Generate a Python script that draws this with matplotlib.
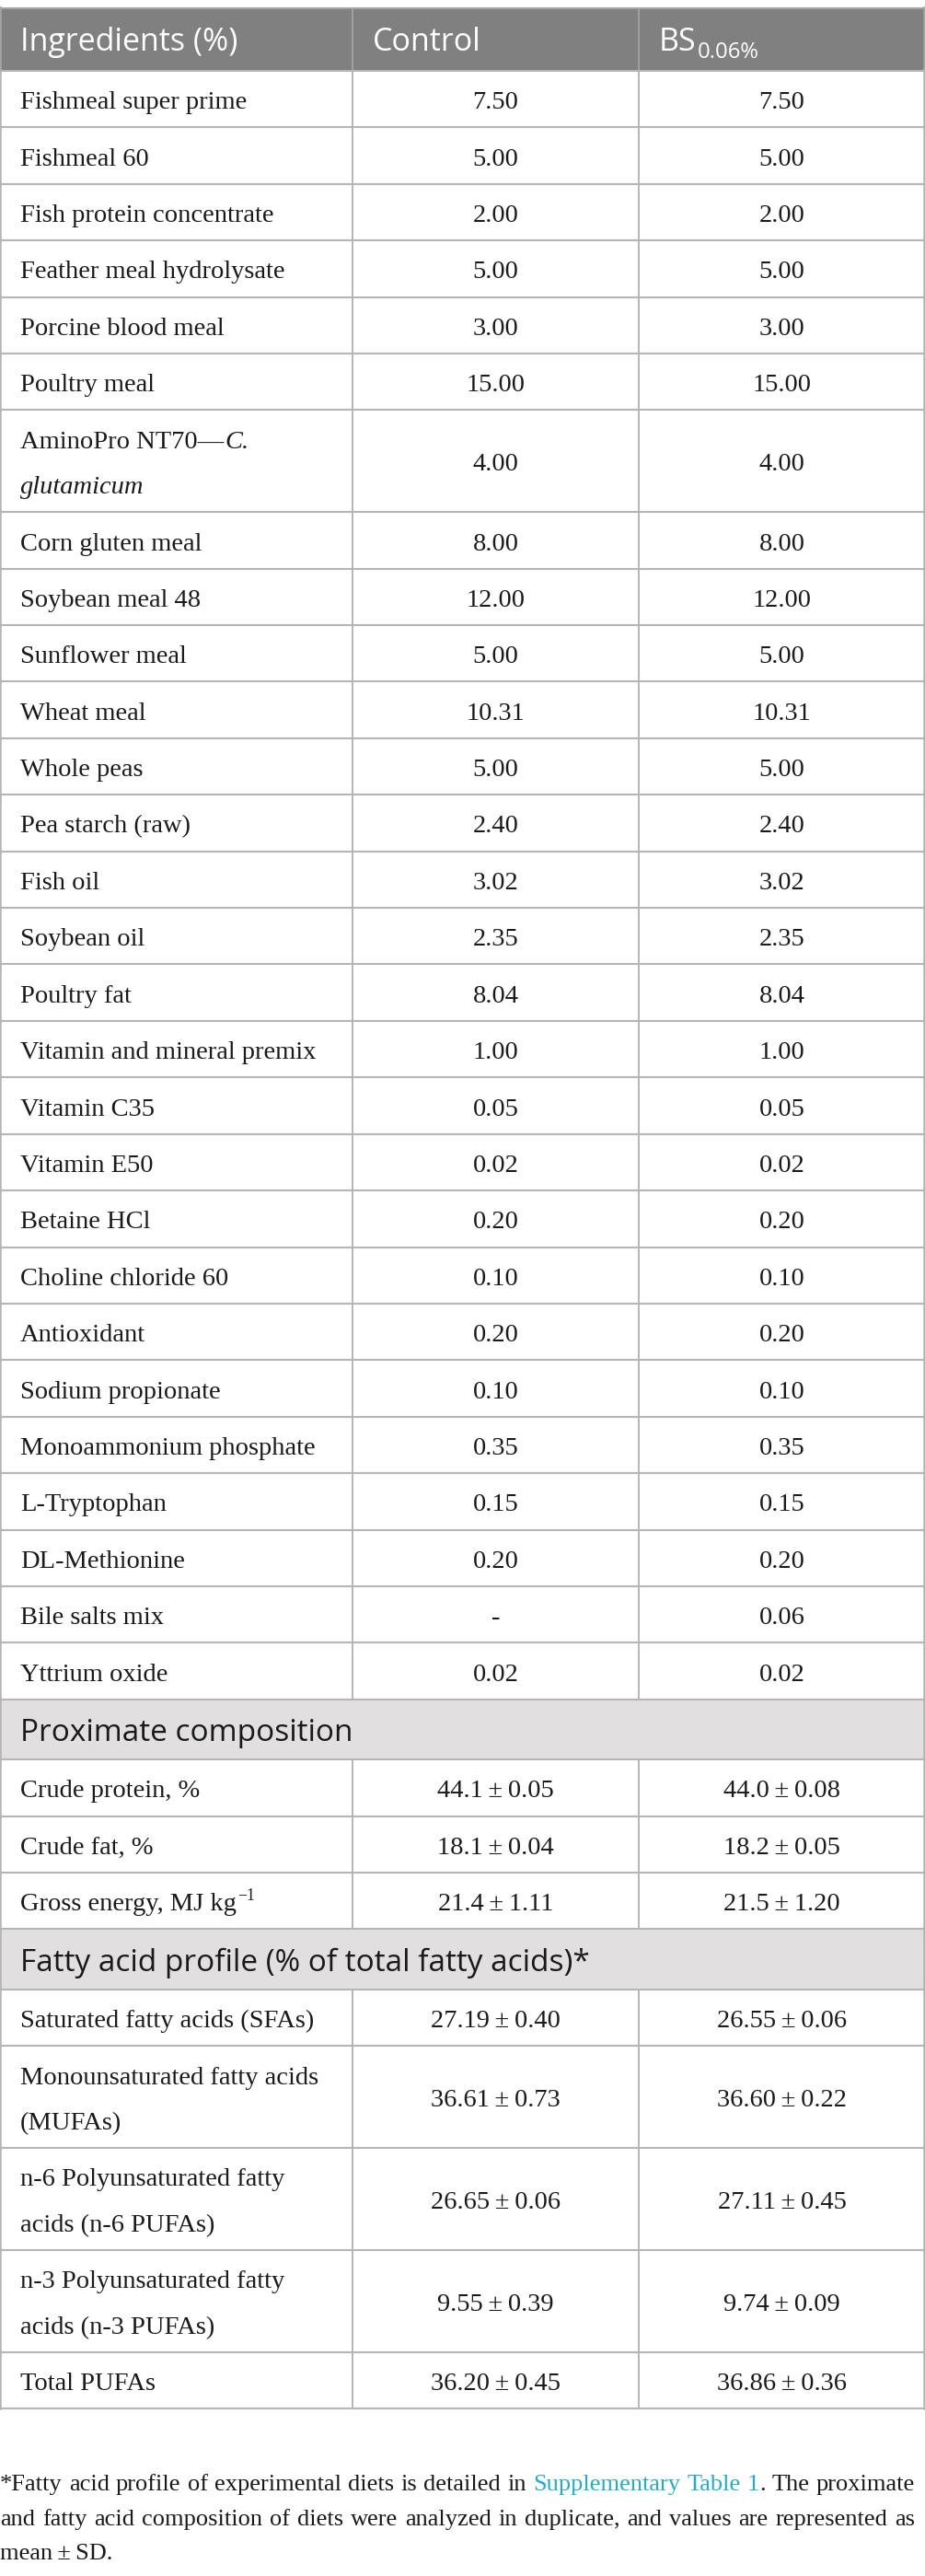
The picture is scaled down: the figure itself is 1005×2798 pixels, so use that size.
import re
import matplotlib
matplotlib.use("Agg")
import matplotlib.pyplot as plt
from matplotlib.patches import Rectangle

# ---------------- data ----------------
header_labels = ["Ingredients (%)", "Control", "BS{sub:0.06%}"]

ingredients = [
    "Fishmeal super prime", "Fishmeal 60", "Fish protein concentrate",
    "Feather meal hydrolysate", "Porcine blood meal", "Poultry meal",
    "AminoPro NT70—{i:C.}\n{i:glutamicum}", "Corn gluten meal", "Soybean meal 48",
    "Sunflower meal", "Wheat meal", "Whole peas", "Pea starch (raw)", "Fish oil",
    "Soybean oil", "Poultry fat", "Vitamin and mineral premix", "Vitamin C35",
    "Vitamin E50", "Betaine HCl", "Choline chloride 60", "Antioxidant",
    "Sodium propionate", "Monoammonium phosphate", "L-Tryptophan",
    "DL-Methionine", "Bile salts mix", "Yttrium oxide",
]
control_pct = [7.50, 5.00, 2.00, 5.00, 3.00, 15.00, 4.00, 8.00, 12.00, 5.00,
               10.31, 5.00, 2.40, 3.02, 2.35, 8.04, 1.00, 0.05, 0.02, 0.20,
               0.10, 0.20, 0.10, 0.35, 0.15, 0.20, None, 0.02]
bs_pct = [7.50, 5.00, 2.00, 5.00, 3.00, 15.00, 4.00, 8.00, 12.00, 5.00,
          10.31, 5.00, 2.40, 3.02, 2.35, 8.04, 1.00, 0.05, 0.02, 0.20,
          0.10, 0.20, 0.10, 0.35, 0.15, 0.20, 0.06, 0.02]

proximate_title = "Proximate composition"
proximate_labels = ["Crude protein, %", "Crude fat, %", "Gross energy, MJ kg{sup:−1}"]
proximate_control_mean = [44.1, 18.1, 21.4]
proximate_control_sd = [0.05, 0.04, 1.11]
proximate_bs_mean = [44.0, 18.2, 21.5]
proximate_bs_sd = [0.08, 0.05, 1.20]

fatty_title = "Fatty acid profile (% of total fatty acids)*"
fatty_labels = ["Saturated fatty acids (SFAs)", "Monounsaturated fatty acids\n(MUFAs)",
                "n-6 Polyunsaturated fatty\nacids (n-6 PUFAs)",
                "n-3 Polyunsaturated fatty\nacids (n-3 PUFAs)", "Total PUFAs"]
fatty_control_mean = [27.19, 36.61, 26.65, 9.55, 36.20]
fatty_control_sd = [0.40, 0.73, 0.06, 0.39, 0.45]
fatty_bs_mean = [26.55, 36.60, 27.11, 9.74, 36.86]
fatty_bs_sd = [0.06, 0.22, 0.45, 0.09, 0.36]

footnote_lines = [
    "*Fatty acid profile of experimental diets is detailed in {c:Supplementary} {c:Table} {c:1}. The proximate",
    "and fatty acid composition of diets were analyzed in duplicate, and values are represented as",
    "mean\u2009±\u2009SD.",
]

# ---------------- style ----------------
W, H = 1005, 2798
SERIF = ["Liberation Serif", "DejaVu Serif"]
SANS = ["Open Sans", "DejaVu Sans"]
BODY_FS = 20.5
HEAD_FS = 24.5
SECT_FS = 24.0
FOOT_FS_MAX = 21.0
GRID = "#b6b6b6"
HEAD_BG = "#7f807f"
HEAD_LINE = "#a3a3a3"
SECT_BG = "#e1dfe0"
TEAL = "#22aec6"
TXT = "#1a1a1a"

COL_X = [0, 383, 694, 1005]
PAD = 22
SINGLE = 61.4
LINE_GAP = 49.5
HEAD_H = 68.5
SECT_H = 65.5
TOP = 8.5

fig = plt.figure(figsize=(W / 100, H / 100), dpi=100)
ax = fig.add_axes([0, 0, 1, 1])
ax.set_xlim(0, W)
ax.set_ylim(H, 0)
ax.axis("off")
renderer = fig.canvas.get_renderer()


def width_of(t):
    bb = t.get_window_extent(renderer=renderer)
    return bb.width


def parse(line):
    segs = []
    pos = 0
    for m in re.finditer(r"\{(i|sup|sub|c):([^}]*)\}", line):
        if m.start() > pos:
            segs.append(("n", line[pos:m.start()]))
        segs.append((m.group(1), m.group(2)))
        pos = m.end()
    if pos < len(line):
        segs.append(("n", line[pos:]))
    return segs


def draw_rich_line(x, y, line, family, size, color):
    cx = x
    for kind, txt in parse(line):
        kw = dict(family=family, fontsize=size, color=color, ha="left", va="baseline")
        yy = y
        if kind == "i":
            kw["style"] = "italic"
        elif kind == "sup":
            kw["fontsize"] = size * 0.62
            yy = y - size * 1.389 * 0.40
        elif kind == "sub":
            kw["fontsize"] = size * 0.70
            yy = y + size * 1.389 * 0.22
        elif kind == "c":
            kw["color"] = TEAL
        t = ax.text(cx, yy, txt, **kw)
        cx += width_of(t) + (2 if kind in ("i",) else 1)
    return cx


def draw_label(x, ycenter, label, family, size, color, cap_half):
    lines = label.split("\n")
    n = len(lines)
    first = ycenter - LINE_GAP * (n - 1) / 2 + cap_half
    for k, ln in enumerate(lines):
        draw_rich_line(x, first + k * LINE_GAP, ln, family, size, color)


def fmt_pct(v):
    return "-" if v is None else f"{v:.2f}"


def fmt_msd(m, s, dec):
    return f"{m:.{dec}f}\u2009±\u2009{s:.2f}"


# ---------------- build rows ----------------
rows = []  # (kind, label, ctrl, bs)
rows.append(("head", header_labels, None, None))
for lab, c, b in zip(ingredients, control_pct, bs_pct):
    rows.append(("body", lab, fmt_pct(c), fmt_pct(b)))
rows.append(("sect", proximate_title, None, None))
for lab, cm, cs, bm, bsd in zip(proximate_labels, proximate_control_mean, proximate_control_sd,
                                proximate_bs_mean, proximate_bs_sd):
    rows.append(("body", lab, fmt_msd(cm, cs, 1), fmt_msd(bm, bsd, 1)))
rows.append(("sect", fatty_title, None, None))
for lab, cm, cs, bm, bsd in zip(fatty_labels, fatty_control_mean, fatty_control_sd,
                                fatty_bs_mean, fatty_bs_sd):
    rows.append(("body", lab, fmt_msd(cm, cs, 2), fmt_msd(bm, bsd, 2)))

y = TOP
boundaries = [y]
for kind, lab, c, b in rows:
    if kind == "head":
        h = HEAD_H
    elif kind == "sect":
        h = SECT_H
    else:
        h = SINGLE + LINE_GAP * (lab.count("\n"))
    y0, y1 = y, y + h
    yc = (y0 + y1) / 2
    if kind == "head":
        ax.add_patch(Rectangle((0, y0), W, h, facecolor=HEAD_BG, edgecolor="none", zorder=0))
        for j, hl in enumerate(lab):
            draw_rich_line(COL_X[j] + PAD, yc + 12.5, hl, SANS, HEAD_FS, "white")
        for xv in COL_X[1:-1]:
            ax.plot([xv, xv], [y0, y1], color=HEAD_LINE, lw=1.3, zorder=1)
        ax.plot([0, 0], [y0, y1], color=HEAD_LINE, lw=2.6, zorder=1)
        ax.plot([W, W], [y0, y1], color=HEAD_LINE, lw=2.6, zorder=1)
    elif kind == "sect":
        ax.add_patch(Rectangle((0, y0), W, h, facecolor=SECT_BG, edgecolor="none", zorder=0))
        draw_rich_line(PAD, yc + 12.5, lab, SANS, SECT_FS, TXT)
        ax.plot([0, 0], [y0, y1], color=GRID, lw=2.6, zorder=1)
        ax.plot([W, W], [y0, y1], color=GRID, lw=2.6, zorder=1)
    else:
        draw_label(PAD, yc, lab, SERIF, BODY_FS, TXT, 10.5)
        for j, v in enumerate([c, b]):
            xm = (COL_X[j + 1] + COL_X[j + 2]) / 2
            ax.text(xm, yc + 10.5, v, family=SERIF, fontsize=BODY_FS, color=TXT,
                    ha="center", va="baseline")
        for xv in COL_X[1:-1]:
            ax.plot([xv, xv], [y0, y1], color=GRID, lw=1.4, zorder=1)
        ax.plot([0, 0], [y0, y1], color=GRID, lw=2.6, zorder=1)
        ax.plot([W, W], [y0, y1], color=GRID, lw=2.6, zorder=1)
    y = y1
    boundaries.append(y)

for i, yb in enumerate(boundaries):
    col = HEAD_LINE if i == 0 else GRID
    ax.plot([0, W], [yb, yb], color=col, lw=1.5, zorder=2)

# ---------------- footnote (justified) ----------------
FOOT_LEFT, FOOT_RIGHT = 0, 994
foot_baselines = [2705, 2743, 2780]


def tokens_of(line):
    return [parse(w) for w in line.split(" ")]


def measure(segs, size):
    tot = 0
    for kind, txt in segs:
        t = ax.text(0, 0, txt, family=SERIF, fontsize=size)
        tot += width_of(t)
        t.remove()
    return tot


fs = FOOT_FS_MAX
space_em = 0.27
while fs > 12:
    ok = True
    for line in footnote_lines[:-1]:
        ws = tokens_of(line)
        nat = sum(measure(s, fs) for s in ws) + (len(ws) - 1) * space_em * fs * 100 / 72
        if nat > FOOT_RIGHT - FOOT_LEFT:
            ok = False
    if ok:
        break
    fs -= 0.1

for li, line in enumerate(footnote_lines):
    words = tokens_of(line)
    widths = [measure(s, fs) for s in words]
    if li < len(footnote_lines) - 1:
        gap = (FOOT_RIGHT - FOOT_LEFT - sum(widths)) / (len(words) - 1)
    else:
        gap = space_em * fs * 100 / 72
    x = FOOT_LEFT
    for segs, wd in zip(words, widths):
        cx = x
        for kind, txt in segs:
            color = TEAL if kind == "c" else TXT
            t = ax.text(cx, foot_baselines[li], txt, family=SERIF, fontsize=fs,
                        color=color, ha="left", va="baseline")
            cx += width_of(t) + 0.5
        x += wd + gap

fig.savefig("out.png", dpi=100)
